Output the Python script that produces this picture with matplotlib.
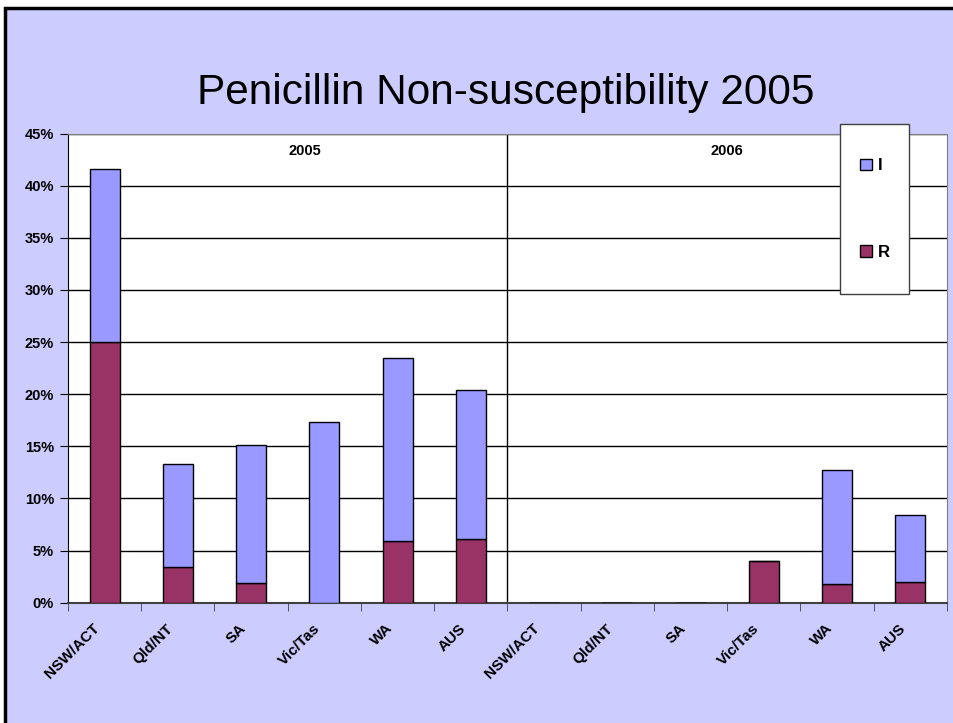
import matplotlib.pyplot as plt
from matplotlib.patches import Rectangle, Patch
from matplotlib.ticker import PercentFormatter, MultipleLocator, FixedLocator
from matplotlib.transforms import ScaledTranslation
import numpy as np

plt.rcParams['font.family'] = ['Liberation Sans', 'DejaVu Sans']

regions = ["NSW/ACT", "Qld/NT", "SA", "Vic/Tas", "WA", "AUS",
           "NSW/ACT", "Qld/NT", "SA", "Vic/Tas", "WA", "AUS"]
# percent of isolates, 2005 then 2006
r_vals = [25.0, 3.4, 1.9, 0.0, 5.9, 6.1,
          0.0, 0.0, 0.0, 4.0, 1.8, 2.0]
i_vals = [16.6, 9.9, 13.2, 17.3, 17.6, 14.3,
          0.0, 0.0, 0.0, 0.0, 10.9, 6.4]
years = ["2005", "2006"]
year_pos = [2.73, 8.5]

c_i = "#9999FF"
c_r = "#993366"
W, H = 954, 723

fig = plt.figure(figsize=(W / 100, H / 100), dpi=100)
fig.patch.set_facecolor("white")
fig.add_artist(Rectangle((5 / W, -0.05), 1.1, 1.05 - 8 / H, transform=fig.transFigure,
                         facecolor="#CCCCFF", edgecolor="black", lw=2.5, zorder=-1))

fig.text(505.5 / W, 1 - 104 / H, "Penicillin Non-susceptibility 2005",
         ha="center", va="baseline", fontsize=30.5)

ax = fig.add_axes([68 / W, 1 - 602.7 / H, (947 - 68) / W, (602.7 - 133.5) / H])
ax.set_facecolor("white")
x = np.arange(len(regions))
ax.bar(x, r_vals, width=0.41, color=c_r, edgecolor="black", lw=1, zorder=3)
ax.bar(x, i_vals, bottom=r_vals, width=0.41, color=c_i, edgecolor="black", lw=1, zorder=3)

ax.set_xlim(-0.5, 11.5)
ax.set_ylim(0, 45)
ax.yaxis.set_major_locator(MultipleLocator(5))
ax.yaxis.set_major_formatter(PercentFormatter(decimals=0))
ax.grid(axis="y", color="black", lw=1, zorder=1)
ax.set_axisbelow(True)
ax.axvline(5.5, color="black", lw=1, zorder=2)

ax.set_xticks(x)
ax.set_xticklabels(regions, rotation=45, ha="right", va="center",
                   rotation_mode="anchor", fontsize=11, fontweight="bold")
ax.xaxis.set_minor_locator(FixedLocator(np.arange(-0.5, 12, 1)))
ax.tick_params(axis="x", which="major", length=0, pad=17)
ax.tick_params(axis="x", which="minor", length=6, direction="out", color="#404040")
ax.tick_params(axis="y", length=6, direction="out", pad=4, labelsize=10.5)
for lab in ax.get_yticklabels():
    lab.set_fontweight("bold")
for lab in ax.get_xticklabels():
    lab.set_transform(lab.get_transform() + ScaledTranslation(-5 / 72, 0, fig.dpi_scale_trans))

for s in ["top", "right"]:
    ax.spines[s].set_color("#808080")
ax.spines["left"].set_color("black")
ax.spines["bottom"].set_color("#404040")
ax.spines["bottom"].set_linewidth(1.5)

for yr, xp in zip(years, year_pos):
    ax.text(xp, 43.3, yr, ha="center", va="center", fontsize=10.5, fontweight="bold")

fig.add_artist(Rectangle((840 / W, 1 - 294 / H), 69 / W, 170 / H, transform=fig.transFigure,
                         facecolor="white", edgecolor="#404040", lw=1, zorder=2))
handles = [Patch(facecolor=c_i, edgecolor="black"), Patch(facecolor=c_r, edgecolor="black")]
fig.legend(handles, ["I", "R"], loc="center", bbox_to_anchor=(875 / W, 1 - 209 / H),
           frameon=False, labelspacing=4.3, handlelength=0.7, handleheight=0.7,
           handletextpad=0.35, prop={"size": 12, "weight": "bold"})

fig.savefig("out.png", dpi=100)
